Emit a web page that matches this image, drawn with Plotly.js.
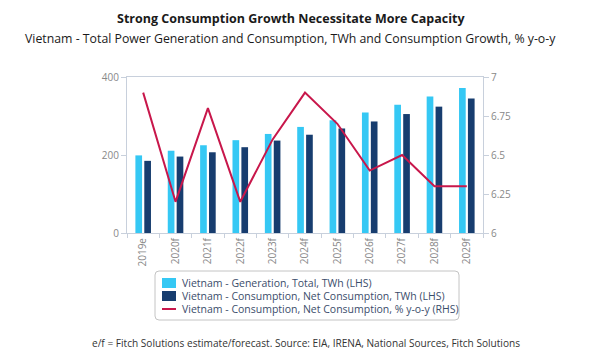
<!DOCTYPE html>
<html>
<head>
<meta charset="utf-8">
<script src="https://cdn.plot.ly/plotly-3.0.1.min.js"></script>
<style>html,body{margin:0;padding:0;background:#fff;}#chart{width:600px;height:360px;}</style>
</head>
<body>
<div id="chart"></div>
<script>
var years = ["2019e","2020f","2021f","2022f","2023f","2024f","2025f","2026f","2027f","2028f","2029f"];
var generation = [199, 211, 225, 238, 254, 272, 289, 309, 329, 350, 372];
var consumption = [185, 196, 207, 220, 237, 252, 268, 286, 305, 324, 345];
var growth = [6.9, 6.2, 6.8, 6.2, 6.6, 6.9, 6.7, 6.4, 6.5, 6.3, 6.3];
var leftTicks = [0, 200, 400];
var rightTicks = [6, 6.25, 6.5, 6.75, 7];
var rightTickText = ["6", "6.25", "6.5", "6.75", "7"];
var seriesNames = [
  "Vietnam - Generation, Total, TWh (LHS)",
  "Vietnam - Consumption, Net Consumption, TWh (LHS)",
  "Vietnam - Consumption, Net Consumption, % y-o-y (RHS)"
];
var colors = ["#35c8f4", "#173d6f", "#c8174b"];

var fontFam = "Open Sans, sans-serif";
var traces = [
  {type:"bar", x:years, y:generation, name:seriesNames[0], marker:{color:colors[0]}},
  {type:"bar", x:years, y:consumption, name:seriesNames[1], marker:{color:colors[1]}},
  {type:"scatter", mode:"lines", x:years, y:growth, yaxis:"y2", name:seriesNames[2], line:{color:colors[2], width:2}}
];

// pixel -> paper helpers (plot area: x 127..483, y 77..233)
var L = 127, R = 483, T = 77, B = 233;
function px(x){ return (x - L) / (R - L); }
function py(y){ return (B - y) / (B - T); }

var shapes = [];
var annotations = [];
// legend box with rounded corners
(function(){
  var x0 = 155, x1 = 459, y0 = 271, y1 = 320, r = 4;
  var path = "M" + px(x0 + r) + "," + py(y0) +
    " L" + px(x1 - r) + "," + py(y0) +
    " Q" + px(x1) + "," + py(y0) + " " + px(x1) + "," + py(y0 + r) +
    " L" + px(x1) + "," + py(y1 - r) +
    " Q" + px(x1) + "," + py(y1) + " " + px(x1 - r) + "," + py(y1) +
    " L" + px(x0 + r) + "," + py(y1) +
    " Q" + px(x0) + "," + py(y1) + " " + px(x0) + "," + py(y1 - r) +
    " L" + px(x0) + "," + py(y0 + r) +
    " Q" + px(x0) + "," + py(y0) + " " + px(x0 + r) + "," + py(y0) + " Z";
  shapes.push({type:"path", xref:"paper", yref:"paper", path:path, line:{color:"#c4c4c4", width:1}, fillcolor:"rgba(0,0,0,0)"});
  var rows = [283, 296, 309];
  for (var i = 0; i < 3; i++) {
    if (i < 2) {
      shapes.push({type:"rect", xref:"paper", yref:"paper", x0:px(162), x1:px(176), y0:py(rows[i] + 5), y1:py(rows[i] - 5),
                   fillcolor:colors[i], line:{width:0}});
    } else {
      shapes.push({type:"line", xref:"paper", yref:"paper", x0:px(162), x1:px(176), y0:py(rows[i]), y1:py(rows[i]),
                   line:{color:colors[i], width:2}});
    }
    annotations.push({xref:"paper", yref:"paper", x:px(180), y:py(rows[i]), xanchor:"left", yanchor:"middle", showarrow:false,
                      text:seriesNames[i], font:{size:10.5, color:"#3b4d6b", family:fontFam}});
  }
})();

annotations.push(
  {xref:"paper", yref:"paper", x:px(290.5), y:py(18), xanchor:"center", yanchor:"middle", showarrow:false,
   text:"<b>Strong Consumption Growth Necessitate More Capacity</b>", font:{size:12.5, color:"#1a1a1a", family:fontFam}},
  {xref:"paper", yref:"paper", x:px(290), y:py(38), xanchor:"center", yanchor:"middle", showarrow:false,
   text:"Vietnam - Total Power Generation and Consumption, TWh and Consumption Growth, % y-o-y", font:{size:12.3, color:"#1a1a1a", family:fontFam}},
  {xref:"paper", yref:"paper", x:px(306), y:py(343), xanchor:"center", yanchor:"middle", showarrow:false,
   text:"e/f = Fitch Solutions estimate/forecast. Source: EIA, IRENA, National Sources, Fitch Solutions", font:{size:10.1, color:"#333", family:fontFam}}
);

var layout = {
  width:600, height:360,
  margin:{l:L, r:600 - R, t:T, b:360 - B},
  paper_bgcolor:"#fff", plot_bgcolor:"#fff",
  font:{family:fontFam, color:"#888", size:10},
  showlegend:false,
  barmode:"group", bargap:0.45, bargroupgap:0.25,
  xaxis:{type:"category", tickangle:-90, tickson:"boundaries", ticks:"outside", ticklen:4, tickcolor:"#c8d0dc",
         showline:true, linecolor:"#c8d0dc", mirror:true, showgrid:false, tickfont:{size:10, color:"#888"}},
  yaxis:{range:[0,400], tickvals:leftTicks, ticks:"outside", ticklen:5, tickcolor:"#c8d0dc", showline:true, linecolor:"#c8d0dc",
         showgrid:false, zeroline:false, tickfont:{size:10, color:"#888"}},
  yaxis2:{overlaying:"y", side:"right", range:[6,7], tickvals:rightTicks, ticktext:rightTickText, ticks:"outside", ticklen:5, tickcolor:"#c8d0dc",
          showline:true, linecolor:"#c8d0dc", showgrid:false, zeroline:false, tickfont:{size:10, color:"#888"}},
  shapes:shapes,
  annotations:annotations
};
Plotly.newPlot("chart", traces, layout, {displayModeBar:false, staticPlot:true});
</script>
</body>
</html>
